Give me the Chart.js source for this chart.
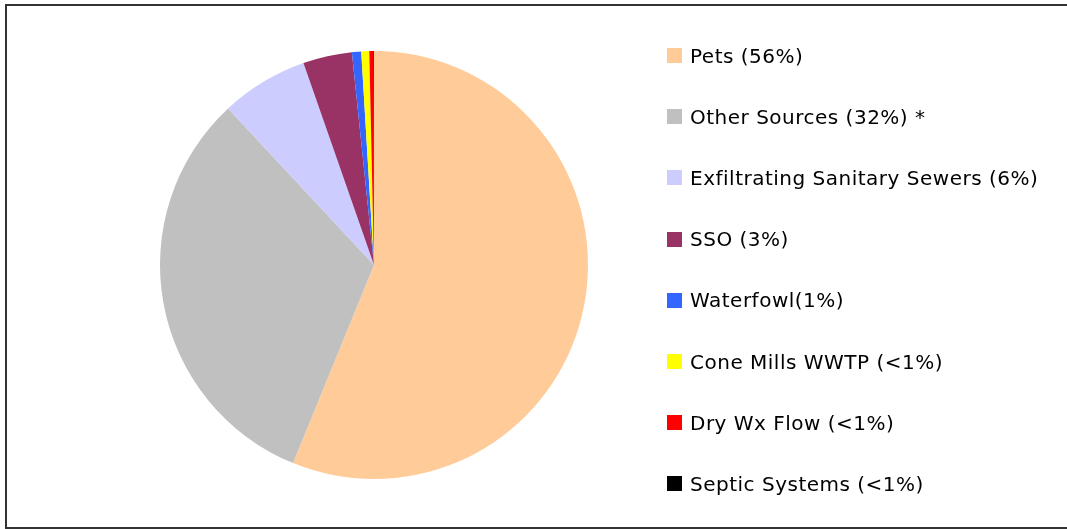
<!DOCTYPE html>
<html lang="en">

<head>
    <meta charset="UTF-8">
    <title>Sources</title>
    <script src="https://cdn.jsdelivr.net/npm/chart.js"></script>
    <style>
        body { margin: 0; width: 1067px; height: 529px; overflow: hidden; background: #fff; position: relative; }
        #frame { position: absolute; left: 5px; top: 4px; width: 1100px; height: 521px; border: 2px solid #333; }
        #pieBox { position: absolute; left: 0; top: 0; width: 748px; height: 529px; }
        #legend { position: absolute; left: 667px; top: 25px; margin: 0; padding: 0; list-style: none;
                  font-family: "Comic Sans MS", "DejaVu Sans", sans-serif; font-size: 20px; letter-spacing: 0.5px; color: #000; }
        #legend li { height: 61.2px; display: flex; align-items: center; white-space: nowrap; }
        #legend span.box { width: 15px; height: 15px; margin-right: 8px; display: inline-block; }
    </style>
</head>

<body>
    <div id="frame"></div>
    <div id="pieBox"><canvas id="pieChart" width="748" height="529"></canvas></div>
    <ul id="legend"></ul>

    <script>
        // source shares in percent (clockwise from 12 o'clock)
        const labels = [
            'Pets (56%)',
            'Other Sources (32%) *',
            'Exfiltrating Sanitary Sewers (6%)',
            'SSO (3%)',
            'Waterfowl(1%)',
            'Cone Mills WWTP (<1%)',
            'Dry Wx Flow (<1%)',
            'Septic Systems (<1%)'
        ];
        const shares = [56.2, 31.9, 6.6, 3.7, 0.7, 0.6, 0.3, 0.05];
        const colors = ['#FFCC99', '#C0C0C0', '#CCCCFF', '#993366', '#3366FF', '#FFFF00', '#FF0000', '#000000'];

        const ctx = document.getElementById('pieChart').getContext('2d');
        new Chart(ctx, {
            type: 'pie',
            data: {
                labels: labels,
                datasets: [{
                    data: shares,
                    backgroundColor: colors,
                    borderWidth: 0,
                    hoverOffset: 0
                }]
            },
            options: {
                responsive: false,
                animation: false,
                layout: { padding: { top: 51, bottom: 50 } },
                plugins: {
                    legend: { display: false },
                    tooltip: { enabled: false }
                }
            }
        });

        // legend list built from the same arrays
        const legendList = document.getElementById('legend');
        labels.forEach((label, i) => {
            const li = document.createElement('li');
            const box = document.createElement('span');
            box.className = 'box';
            box.style.background = colors[i];
            li.appendChild(box);
            li.appendChild(document.createTextNode(label));
            legendList.appendChild(li);
        });
    </script>
</body>

</html>
